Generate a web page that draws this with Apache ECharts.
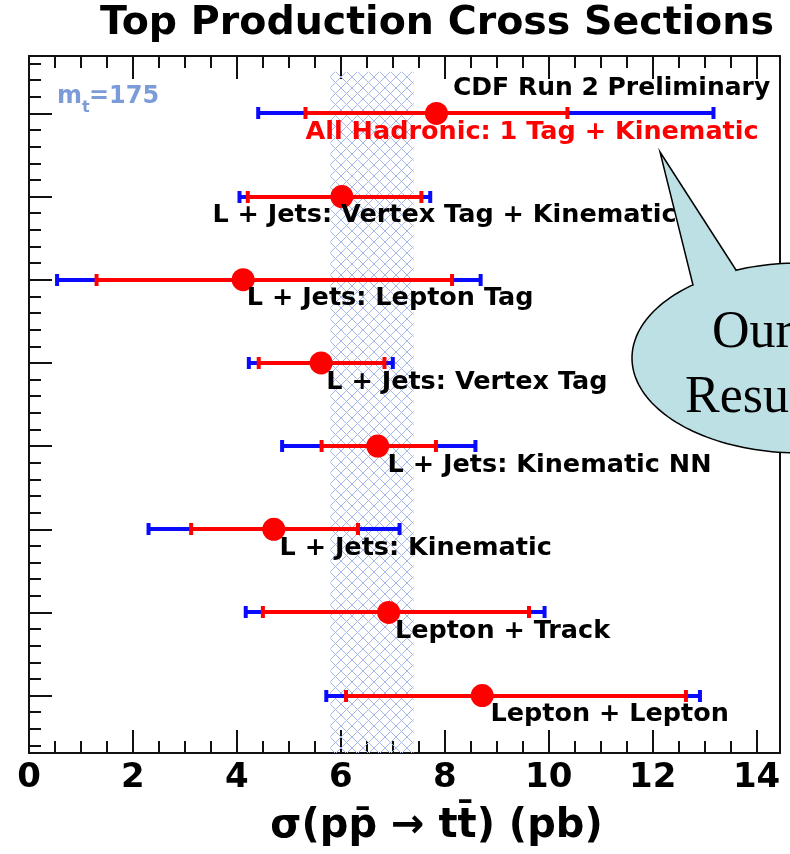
<!DOCTYPE html>
<html><head><meta charset="utf-8">
<script src="https://cdn.jsdelivr.net/npm/echarts@6/dist/echarts.min.js"></script>
<style>html,body{margin:0;padding:0;background:#fff;}#c{width:790px;height:854px;}</style>
</head><body><div id="c"></div>
<script>
// ---- data ----
const channels = ['All Hadronic: 1 Tag + Kinematic', 'L + Jets: Vertex Tag + Kinematic', 'L + Jets: Lepton Tag', 'L + Jets: Vertex Tag', 'L + Jets: Kinematic NN', 'L + Jets: Kinematic', 'Lepton + Track', 'Lepton + Lepton'];
const rowPos  = [7, 6, 5, 4, 3, 2, 1, 0];
const central = [7.84, 6.02, 4.12, 5.62, 6.71, 4.71, 6.92, 8.72];
const statLo  = [5.32, 4.21, 1.30, 4.42, 5.63, 3.12, 4.50, 6.10];
const statHi  = [10.36, 7.55, 8.14, 6.84, 7.83, 6.33, 9.62, 12.64];
const totLo   = [4.41, 4.05, 0.54, 4.23, 4.87, 2.30, 4.17, 5.72];
const totHi   = [13.17, 7.72, 8.69, 7.00, 8.59, 7.13, 9.92, 12.91];
const labelX  = [5.32, 3.53, 4.19, 5.72, 6.90, 4.82, 7.04, 8.88];
const combinedBand = [5.8, 7.4];
const bandTop = 7.5;
const xTickLabels = [0, 2, 4, 6, 8, 10, 12, 14];

// ---- axis helpers ----
const X_MIN = 0, X_MAX = 14.45, Y_MIN = -0.69, Y_MAX = 7.69;
const xMinor = []; for (let v = 0.5; v < X_MAX; v += 0.5) xMinor.push(+v.toFixed(2));
const yMinor = []; for (let v = -0.6; v < Y_MAX; v += 0.2) yMinor.push(+v.toFixed(2));
const FONT = '"DejaVu Sans", sans-serif';
const SERIF = '"Liberation Serif", "Times New Roman", serif';
const AX = '#111';

function xAxisDef(pos, ticks, len, showLine, extra) {
  return Object.assign({
    type: 'value', position: pos, min: X_MIN, max: X_MAX,
    axisLine: { show: showLine, onZero: false, lineStyle: { color: AX, width: 2 } },
    axisTick: { show: true, inside: true, length: len, customValues: ticks, lineStyle: { color: AX, width: 2 } },
    axisLabel: { show: false },
    splitLine: { show: false }
  }, extra || {});
}
function yAxisDef(pos, ticks, len, showLine) {
  return {
    type: 'value', position: pos, min: Y_MIN, max: Y_MAX,
    axisLine: { show: showLine, onZero: false, lineStyle: { color: AX, width: 2 } },
    axisTick: { show: ticks !== null, inside: true, length: len, customValues: ticks || [], lineStyle: { color: AX, width: 2 } },
    axisLabel: { show: false },
    splitLine: { show: false }
  };
}

// hatch pattern
const pc = document.createElement('canvas'); pc.width = 11; pc.height = 11;
const g = pc.getContext('2d');
g.strokeStyle = '#a3b7e8'; g.lineWidth = 1;
g.beginPath(); g.moveTo(0, 0); g.lineTo(11, 11); g.moveTo(11, 0); g.lineTo(0, 11); g.stroke();

// speech bubble outline (annotation shape in pixels)
const bubble = [[660, 152], [736, 270]];
(function () {
  const cx = 800, cy = 358, rx = 168, ry = 95;
  const a0 = 247.6, a1 = 230.3 + 360;
  for (let a = a0; a <= a1; a += 2) {
    const t = a * Math.PI / 180;
    bubble.push([cx + rx * Math.cos(t), cy + ry * Math.sin(t)]);
  }
  bubble.push([693, 285]);
})();

const chart = echarts.init(document.getElementById('c'), null, { renderer: 'canvas' });

const errData = rowPos.map((y, i) => [y, central[i], statLo[i], statHi[i], totLo[i], totHi[i]]);

chart.setOption({
  animation: false,
  backgroundColor: '#fff',
  grid: { left: 29, right: 10, top: 56, bottom: 101, containLabel: false },
  xAxis: [
    xAxisDef('bottom', xTickLabels, 23, true, {
      axisLabel: { show: true, customValues: xTickLabels, margin: 8, fontSize: 34, fontWeight: 'bold', fontFamily: FONT, color: '#000' },
      name: 'σ(pp̄ → tt̄) (pb)', nameLocation: 'middle', nameGap: 54,
      nameTextStyle: { fontSize: 40, fontWeight: 'bold', fontFamily: FONT, color: '#000', padding: [0, 0, 0, 64] }
    }),
    xAxisDef('bottom', xMinor, 12, false),
    xAxisDef('top', xTickLabels, 23, true),
    xAxisDef('top', xMinor, 12, false)
  ],
  yAxis: [
    yAxisDef('left', rowPos, 23, true),
    yAxisDef('left', yMinor, 12, false),
    yAxisDef('right', null, 0, true)
  ],
  series: [
    {
      type: 'scatter', data: [], z: 1, silent: true,
      markArea: {
        silent: true,
        itemStyle: { color: { image: pc, repeat: 'repeat' }, borderWidth: 0, opacity: 1 },
        data: [[{ xAxis: combinedBand[0], yAxis: Y_MIN }, { xAxis: combinedBand[1], yAxis: bandTop }]]
      }
    },
    {
      type: 'custom', z: 3, silent: true,
      data: errData,
      encode: { x: [1, 2, 3, 4, 5], y: 0 },
      renderItem: function (params, api) {
        const y = api.value(0);
        const tL = api.coord([api.value(4), y]), tH = api.coord([api.value(5), y]);
        const sL = api.coord([api.value(2), y]), sH = api.coord([api.value(3), y]);
        const cy = Math.round(tL[1]), lw = 4, capH = 12, capW = 4;
        const blue = '#0a0aff', red = '#ff0000';
        const rect = (x, yy, w, h, c) => ({ type: 'rect', shape: { x: x, y: yy, width: w, height: h }, style: { fill: c } });
        return { type: 'group', children: [
          rect(tL[0], cy - lw / 2, sL[0] - tL[0], lw, blue),
          rect(sH[0], cy - lw / 2, tH[0] - sH[0], lw, blue),
          rect(tL[0] - capW / 2, cy - capH / 2, capW, capH, blue),
          rect(tH[0] - capW / 2, cy - capH / 2, capW, capH, blue),
          rect(sL[0], cy - lw / 2, sH[0] - sL[0], lw, red),
          rect(sL[0] - capW / 2, cy - capH / 2, capW, capH, red),
          rect(sH[0] - capW / 2, cy - capH / 2, capW, capH, red)
        ] };
      }
    },
    {
      type: 'scatter', z: 4, silent: true,
      symbol: 'circle', symbolSize: 23,
      itemStyle: { color: '#ff0000', opacity: 1 },
      data: central.map((c, i) => [c, rowPos[i]])
    },
    {
      type: 'scatter', z: 5, silent: true, symbolSize: 0,
      itemStyle: { opacity: 1 },
      data: labelX.map((x, i) => ({
        value: [x, rowPos[i]], name: channels[i],
        label: { color: i === 0 ? '#ff0000' : '#000000' }
      })),
      label: {
        show: true, position: 'inside', offset: [0, 19], align: 'left', verticalAlign: 'middle',
        formatter: p => p.name, fontSize: 25.5, fontWeight: 'bold', fontFamily: FONT, opacity: 1
      }
    }
  ],
  graphic: [
    { type: 'text', x: 100, y: 24, style: { text: 'Top Production Cross Sections', fontSize: 39.5, fontWeight: 'bold', fontFamily: FONT, fill: '#000', verticalAlign: 'middle', align: 'left' } },
    { type: 'text', x: 453, y: 88, z: 10, style: { text: 'CDF Run 2 Preliminary', fontSize: 25, fontWeight: 'bold', fontFamily: FONT, fill: '#000', verticalAlign: 'middle', align: 'left' } },
    { type: 'text', x: 57, y: 96.5, z: 10, style: { text: 'm', fontSize: 24, fontWeight: 'bold', fontFamily: FONT, fill: '#7b9bd9', verticalAlign: 'middle', align: 'left' } },
    { type: 'text', x: 82, y: 107.5, z: 10, style: { text: 't', fontSize: 16, fontWeight: 'bold', fontFamily: FONT, fill: '#7b9bd9', verticalAlign: 'middle', align: 'left' } },
    { type: 'text', x: 89, y: 96.5, z: 10, style: { text: '=175', fontSize: 24, fontWeight: 'bold', fontFamily: FONT, fill: '#7b9bd9', verticalAlign: 'middle', align: 'left' } },
    { type: 'polygon', z: 20, shape: { points: bubble },
      style: { fill: '#bde0e4', stroke: '#000', lineWidth: 1.5 } },
    { type: 'text', x: 712, y: 333, z: 21, style: { text: 'Our', fontSize: 52, fontFamily: SERIF, fill: '#000', verticalAlign: 'middle', align: 'left' } },
    { type: 'text', x: 685, y: 398, z: 21, style: { text: 'Result', fontSize: 52, fontFamily: SERIF, fill: '#000', verticalAlign: 'middle', align: 'left' } }
  ]
});
</script>
</body></html>
